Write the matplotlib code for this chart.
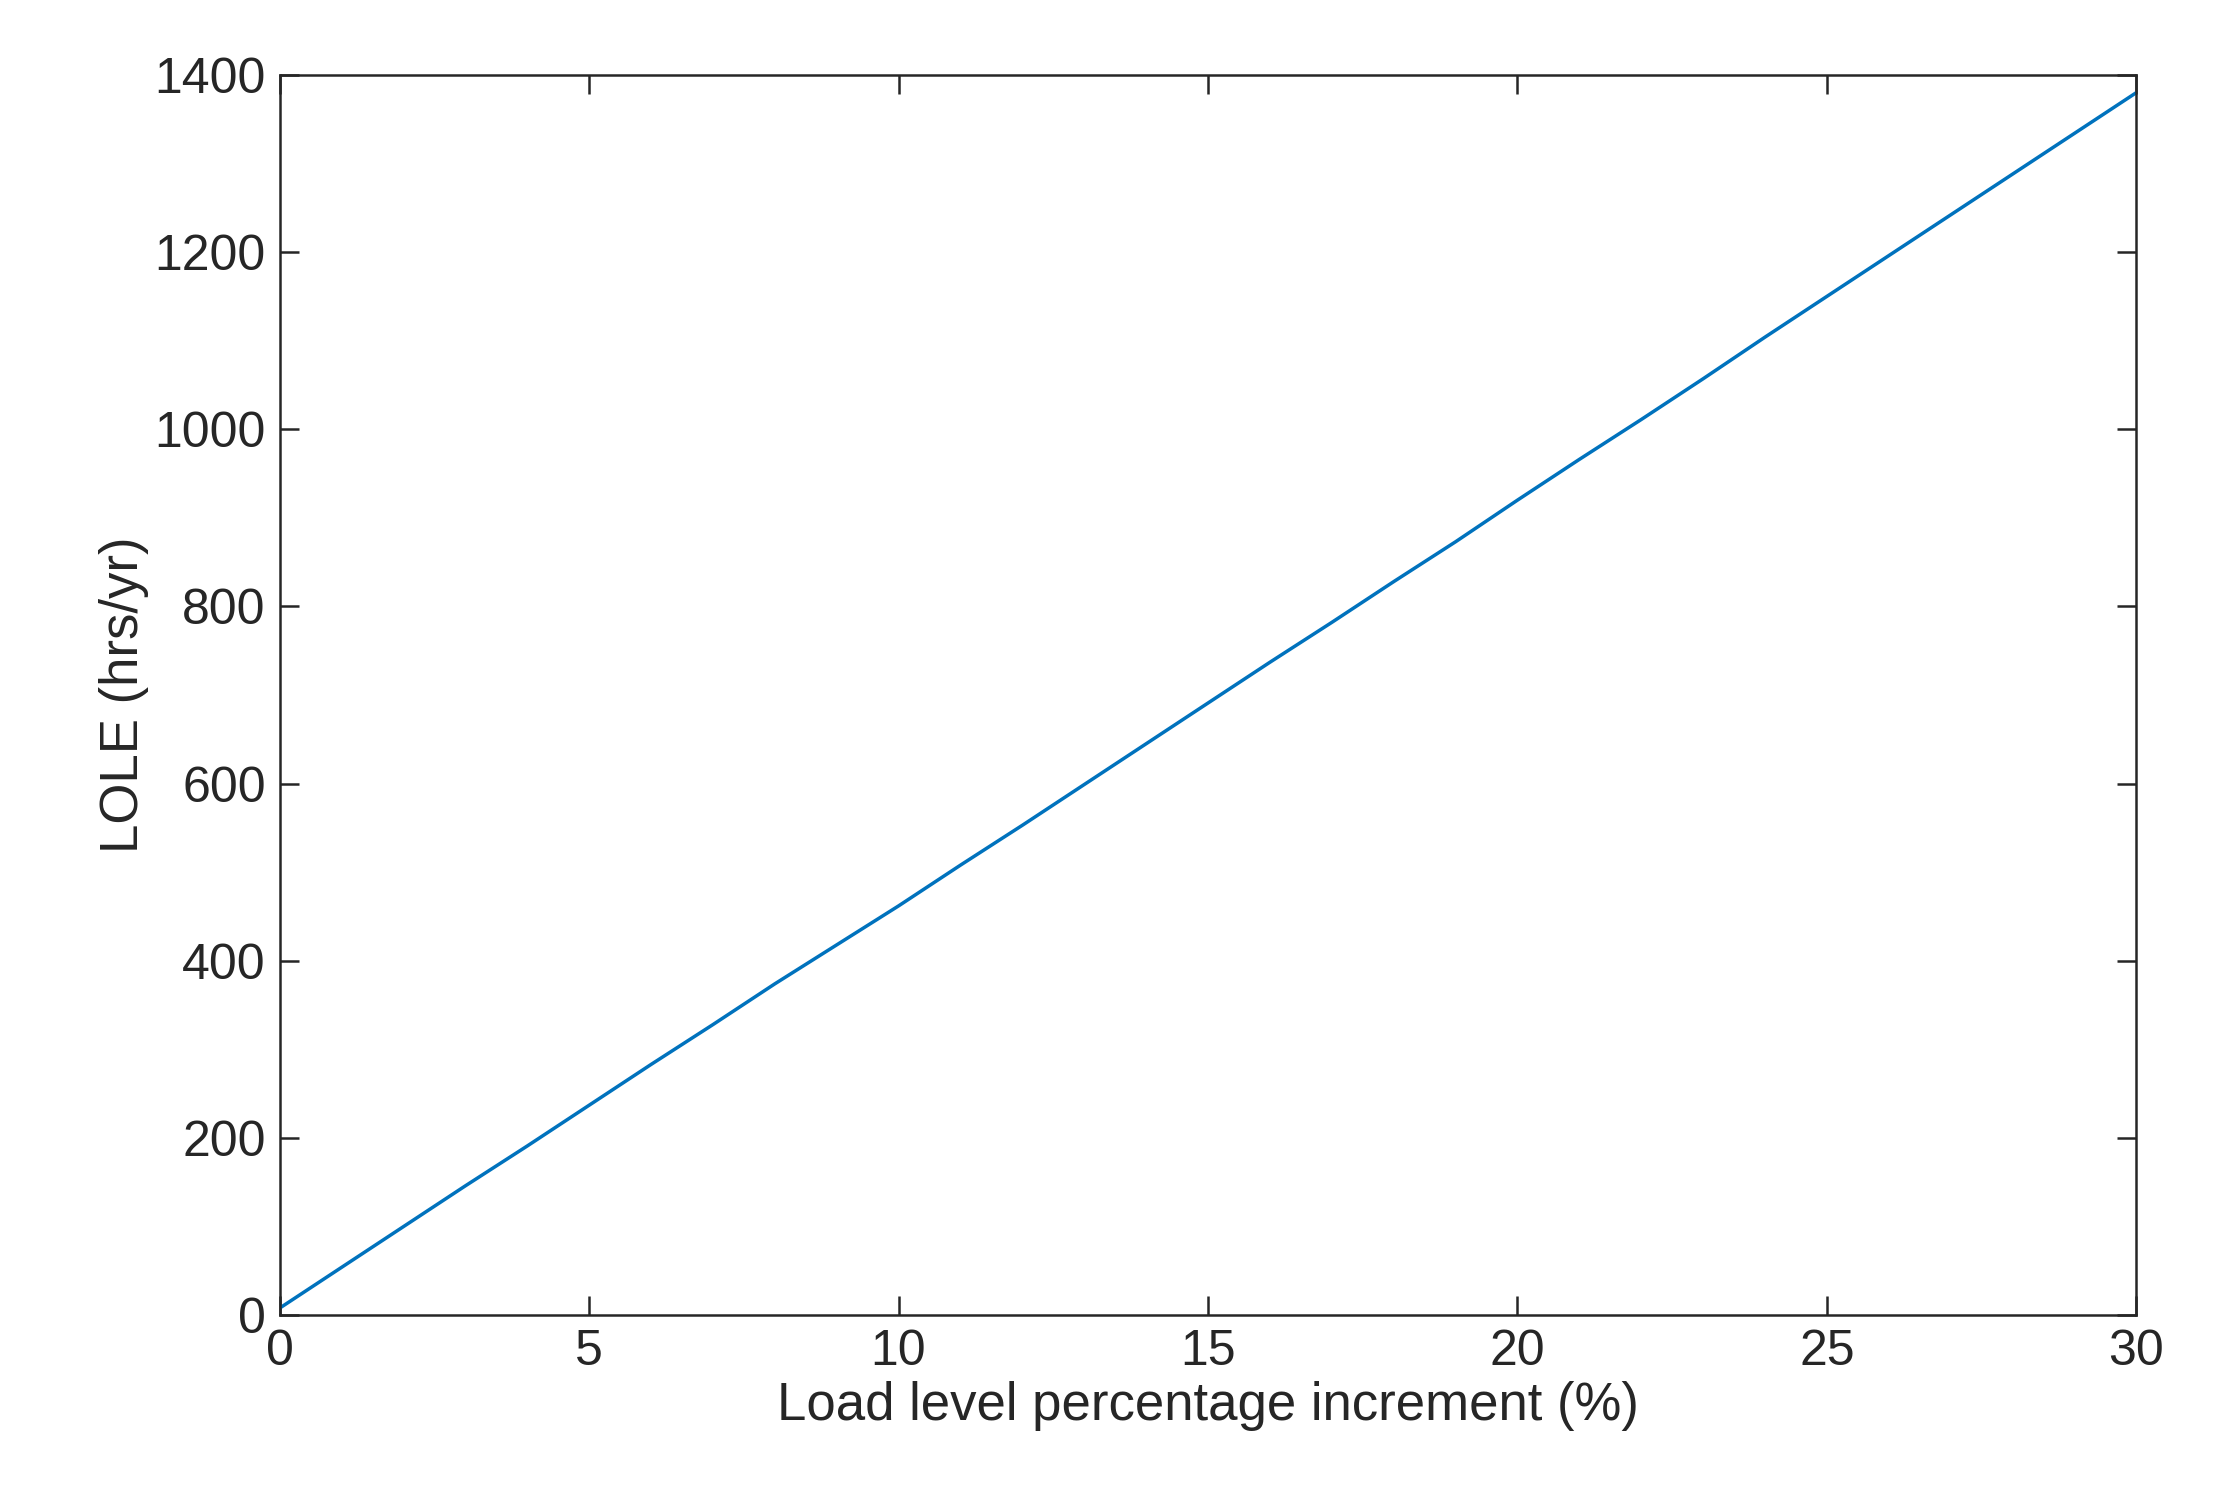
import matplotlib
matplotlib.use("Agg")
import matplotlib.pyplot as plt

load_pct = list(range(0, 31))
lole = [8, 54, 100, 146, 191, 237, 283, 328, 374, 418, 462, 508, 553, 599, 645, 691,
        737, 782, 828, 873, 920, 966, 1011, 1057, 1104, 1150, 1196, 1242, 1288, 1334, 1380]

plt.rcParams['font.family'] = ['Liberation Sans', 'DejaVu Sans']
fig = plt.figure(figsize=(22.37, 14.98), dpi=100)
ax = fig.add_axes([0.125, 0.122, 0.83, 0.828])
ax.plot(load_pct, lole, color='#0072BD', lw=2.5)
ax.set_xlim(0, 30)
ax.set_ylim(0, 1400)
ax.set_xticks(range(0, 31, 5))
ax.set_yticks(range(0, 1401, 200))
ax.tick_params(direction='in', top=True, right=True, labelsize=36, length=14, width=1.8, pad=10, colors='#262626')
for s in ax.spines.values():
    s.set_linewidth(1.8)
    s.set_color('#262626')
ax.set_xlabel('Load level percentage increment (%)', fontsize=38, color='#262626')
ax.set_ylabel('LOLE (hrs/yr)', fontsize=38, color='#262626')
fig.savefig('out.png', dpi=100)
